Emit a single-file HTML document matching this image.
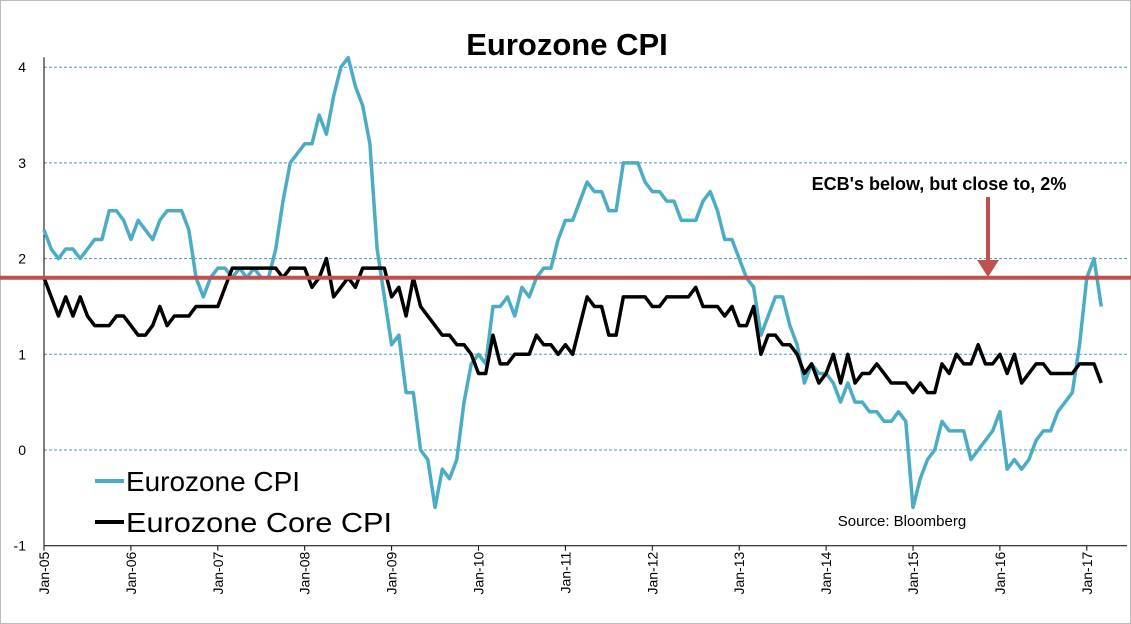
<!DOCTYPE html>
<html><head><meta charset="utf-8"><style>
html,body{margin:0;padding:0;background:#fff}
svg{display:block;font-family:"Liberation Sans",sans-serif}
</style></head><body>
<svg id="chart" width="1131" height="624" viewBox="0 0 1131 624" xmlns="http://www.w3.org/2000/svg">
<rect x="0.5" y="0.5" width="1130" height="623" fill="#fff" stroke="#bbb"/>
<text x="567" y="55" text-anchor="middle" font-size="31" font-weight="bold" fill="#000">Eurozone CPI</text>
<g id="grid"></g><g id="yticks"></g><g id="xticks"></g><g id="series"></g>
<line x1="0" y1="278" x2="1131" y2="278" stroke="#c0504d" stroke-width="4" id="ecbline"/>
<line x1="988" y1="197" x2="988" y2="266" stroke="#c0504d" stroke-width="4"/>
<polygon points="977,260 999,260 988,277" fill="#c0504d"/>
<text x="939" y="190" text-anchor="middle" font-size="18" font-weight="bold" fill="#000">ECB's below, but close to, 2%</text>
<text x="902" y="526" text-anchor="middle" font-size="15" fill="#000">Source: Bloomberg</text>
<g>
<line x1="95" y1="481" x2="124" y2="481" stroke="#4bacc6" stroke-width="4"/>
<text x="126" y="491" font-size="28" textLength="174" lengthAdjust="spacingAndGlyphs" fill="#000">Eurozone CPI</text>
<line x1="95" y1="522" x2="124" y2="522" stroke="#000" stroke-width="4"/>
<text x="126" y="532" font-size="28" textLength="266" lengthAdjust="spacingAndGlyphs" fill="#000">Eurozone Core CPI</text>
</g>
</svg>
<script>
const yTicks=[4,3,2,1,0,-1];
const yearLabels=["Jan-05","Jan-06","Jan-07","Jan-08","Jan-09","Jan-10","Jan-11","Jan-12","Jan-13","Jan-14","Jan-15","Jan-16","Jan-17"];
const ecbLevel=1.8;
const cpi=[2.3,2.1,2.0,2.1,2.1,2.0,2.1,2.2,2.2,2.5,2.5,2.4,
2.2,2.4,2.3,2.2,2.4,2.5,2.5,2.5,2.3,1.8,1.6,1.8,
1.9,1.9,1.8,1.9,1.8,1.9,1.8,1.8,2.1,2.6,3.0,3.1,
3.2,3.2,3.5,3.3,3.7,4.0,4.1,3.8,3.6,3.2,2.1,1.6,
1.1,1.2,0.6,0.6,0.0,-0.1,-0.6,-0.2,-0.3,-0.1,0.5,0.9,
1.0,0.9,1.5,1.5,1.6,1.4,1.7,1.6,1.8,1.9,1.9,2.2,
2.4,2.4,2.6,2.8,2.7,2.7,2.5,2.5,3.0,3.0,3.0,2.8,
2.7,2.7,2.6,2.6,2.4,2.4,2.4,2.6,2.7,2.5,2.2,2.2,
2.0,1.8,1.7,1.2,1.4,1.6,1.6,1.3,1.1,0.7,0.9,0.8,
0.8,0.7,0.5,0.7,0.5,0.5,0.4,0.4,0.3,0.3,0.4,0.3,
-0.6,-0.3,-0.1,0.0,0.3,0.2,0.2,0.2,-0.1,0.0,0.1,0.2,
0.4,-0.2,-0.1,-0.2,-0.1,0.1,0.2,0.2,0.4,0.5,0.6,1.1,
1.8,2.0,1.5];
const core=[1.8,1.6,1.4,1.6,1.4,1.6,1.4,1.3,1.3,1.3,1.4,1.4,
1.3,1.2,1.2,1.3,1.5,1.3,1.4,1.4,1.4,1.5,1.5,1.5,
1.5,1.7,1.9,1.9,1.9,1.9,1.9,1.9,1.9,1.8,1.9,1.9,
1.9,1.7,1.8,2.0,1.6,1.7,1.8,1.7,1.9,1.9,1.9,1.9,
1.6,1.7,1.4,1.8,1.5,1.4,1.3,1.2,1.2,1.1,1.1,1.0,
0.8,0.8,1.2,0.9,0.9,1.0,1.0,1.0,1.2,1.1,1.1,1.0,
1.1,1.0,1.3,1.6,1.5,1.5,1.2,1.2,1.6,1.6,1.6,1.6,
1.5,1.5,1.6,1.6,1.6,1.6,1.7,1.5,1.5,1.5,1.4,1.5,
1.3,1.3,1.5,1.0,1.2,1.2,1.1,1.1,1.0,0.8,0.9,0.7,
0.8,1.0,0.7,1.0,0.7,0.8,0.8,0.9,0.8,0.7,0.7,0.7,
0.6,0.7,0.6,0.6,0.9,0.8,1.0,0.9,0.9,1.1,0.9,0.9,
1.0,0.8,1.0,0.7,0.8,0.9,0.9,0.8,0.8,0.8,0.8,0.9,
0.9,0.9,0.7];
const NS="http://www.w3.org/2000/svg";
const X0=44,YEARW=86.9;
function xs(i){return X0+i*YEARW/12;}
function ys(v){return 450-v*95.7;}
function mk(t,a,p){const e=document.createElementNS(NS,t);for(const k in a)e.setAttribute(k,a[k]);p.appendChild(e);return e;}
const grid=document.getElementById('grid'),yt=document.getElementById('yticks'),xt=document.getElementById('xticks'),se=document.getElementById('series');
yTicks.forEach(v=>{
 if(v>-1){const g=mk('line',{x1:X0,x2:1127,y1:ys(v),y2:ys(v),stroke:'#4a9bb0','stroke-width':1,'stroke-dasharray':'3,2'},grid);
 
 }
 const t=mk('text',{x:26,y:ys(v)+5,'text-anchor':'end','font-size':14,fill:'#000'},yt);t.textContent=v;
 
 
});
const ax=mk('line',{x1:X0,x2:X0,y1:ys(4)-10,y2:ys(-1),stroke:'#000','stroke-width':1},grid);


const bx=mk('line',{x1:X0,x2:1127,y1:ys(-1),y2:ys(-1),stroke:'#000','stroke-width':1},grid);


yearLabels.forEach((l,k)=>{const x=xs(k*12);
 const tk=mk('line',{x1:x,x2:x,y1:ys(-1),y2:ys(-1)+5,stroke:'#000'},xt);
 
 
 const t=mk('text',{x:0,y:0,'text-anchor':'end','font-size':14,fill:'#000',transform:`translate(${x+5},${ys(-1)+6}) rotate(-90)`},xt);t.textContent=l;
 
 
});
document.getElementById('ecbline').setAttribute('y1',ys(ecbLevel));
document.getElementById('ecbline').setAttribute('y2',ys(ecbLevel));
function line(arr,col,name){const p=mk('polyline',{points:arr.map((v,i)=>xs(i)+','+ys(v)).join(' '),fill:'none',stroke:col,'stroke-width':3.5,'stroke-linejoin':'round'},se);
 
 }
line(cpi,'#4bacc6','cpi-line');
line(core,'#000','core-cpi-line');
</script>
</body></html>
